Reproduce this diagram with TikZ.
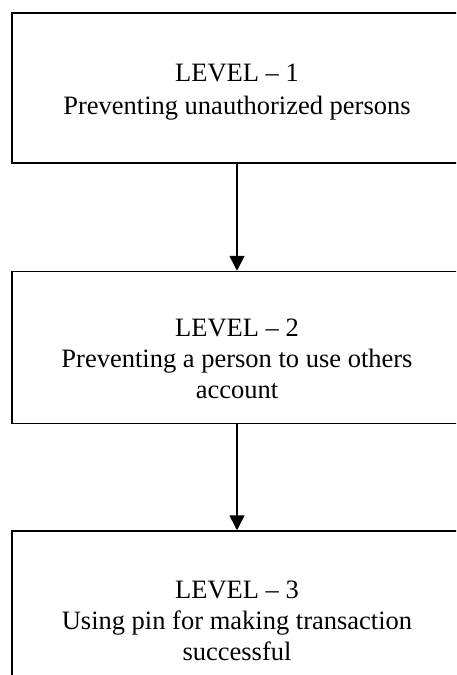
\documentclass[tikz,border=0pt]{standalone}
\usepackage{fontspec}
\setmainfont{Liberation Serif}
\usepackage{tikz}
\usetikzlibrary{positioning}
\usetikzlibrary{arrows.meta}

\begin{document}
\begin{tikzpicture}[x=1pt, y=1pt,
    levelbox/.style={rectangle, draw=black, line width=1.5pt,
      minimum width=450pt, inner sep=0pt},
    leveltext/.style={align=center, inner sep=0pt,
      font=\fontsize{26.5}{31}\selectfont},
    levelarrow/.style={line width=1.6pt,
      -{Triangle[length=15pt, width=15pt]}}, ]
    \useasboundingbox (0,0) rectangle (456,-675);
    \clip (0,0) rectangle (456,-675);
    % Boxes
    \node[levelbox, minimum height=150pt] (level1) at (237,-88) {};
    \node[levelbox, minimum height=152pt] (level2) [below=107pt of
    level1] {}; \node[levelbox, minimum height=152pt] (level3)
    [below=106pt of level2] {};
    % Texts
    \node[leveltext] (text1) at ([yshift=-4pt]level1.center) {LEVEL
      -- 1\\[2pt]Preventing unauthorized persons}; \node[leveltext]
    (text2) at ([yshift=-11.5pt]level2.center) {LEVEL -- 2\\Preventing
      a person to use others\\account}; \node[leveltext] (text3) at
    ([yshift=-13.5pt]level3.center) {LEVEL -- 3\\Using pin for making
      transaction\\successful};
    % Lines
    \draw[levelarrow] (level1.south) -- (level2.north); \draw[levelarrow]
    (level2.south) -- (level3.north);
  \end{tikzpicture}
\end{document}
